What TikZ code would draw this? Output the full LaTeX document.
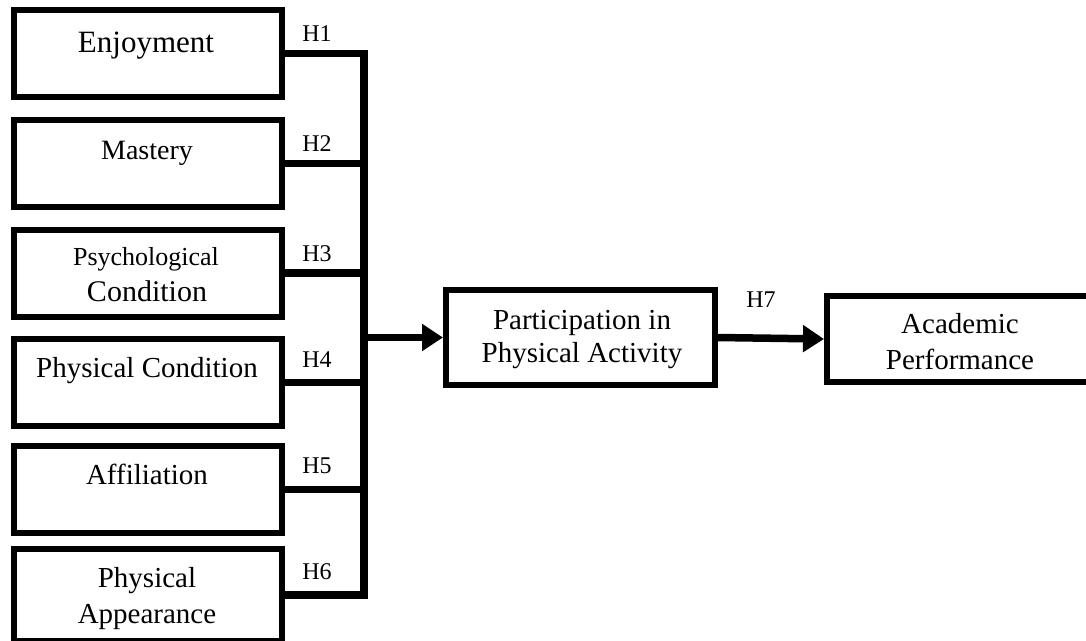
\documentclass[tikz,border=0pt]{standalone}
\usepackage{fontspec}
\setmainfont{Liberation Serif}
\usetikzlibrary{arrows.meta}
\tikzset{
  box/.style={draw, line width=6pt, minimum width=268pt, minimum height=87pt, inner sep=0pt},
  conn/.style={line width=7.5pt, line join=miter},
  tip/.style={-{Triangle[length=21pt,width=26pt]}},
  txt/.style={anchor=base, inner sep=0pt, font=\fontsize{29}{34}\selectfont},
  hyp/.style={anchor=base, inner sep=0pt, font=\fontsize{24}{28}\selectfont},
}
\begin{document}
\begin{tikzpicture}[x=1pt,y=-1pt]
\useasboundingbox (0,0) rectangle (1086,640);

% predictor boxes
\node[box] (b1) at (147.5,53.5) {};
\node[box] (b2) at (147.5,163.5) {};
\node[box] (b3) at (147.5,273) {};
\node[box] (b4) at (147.5,382.5) {};
\node[box] (b5) at (147.5,489.5) {};
\node[box, minimum height=92pt] (b6) at (147.5,595) {};

\node[txt, font=\fontsize{31}{36}\selectfont] (t1) at (146,52) {Enjoyment};
\node[txt, font=\fontsize{28}{33}\selectfont] (t2) at (147,159) {Mastery};
\node[txt, font=\fontsize{26}{31}\selectfont] (t3a) at (146,265) {Psychological};
\node[txt, font=\fontsize{30}{35}\selectfont] (t3b) at (147,301) {Condition};
\node[txt] (t4) at (147,377) {Physical Condition};
\node[txt] (t5) at (147,484) {Affiliation};
\node[txt] (t6a) at (147,587) {Physical};
\node[txt] (t6b) at (147,623) {Appearance};

% mediator and outcome
\node[box, minimum width=269pt, minimum height=95pt] (mid) at (580.5,337.5) {};
\node[txt] (m1) at (582,329) {Participation in};
\node[txt] (m2) at (582,362) {Physical Activity};

\node[box, minimum width=266pt, minimum height=86pt] (acad) at (960,339) {};
\node[txt] (a1) at (960,333) {Academic};
\node[txt] (a2) at (960,369) {Performance};

% collecting bus
\coordinate (bus) at (364,0);
\draw[conn] (b1.east) -- (b1.east -| bus) -- (b6.east -| bus) -- (b6.east);
\foreach \k in {2,3,4,5}
  \draw[conn] (b\k.east) -- (b\k.east -| bus);
\draw[conn, tip] (mid.west -| bus) -- (mid.west);
\draw[conn, tip] (mid.east) -- (acad.west);

% hypothesis labels
\node[hyp] (h1) at (317,41) {H1};
\node[hyp] (h2) at (317,151) {H2};
\node[hyp] (h3) at (317,261) {H3};
\node[hyp] (h4) at (317,367) {H4};
\node[hyp] (h5) at (317,473) {H5};
\node[hyp] (h6) at (317,579) {H6};
\node[hyp] (h7) at (761,307) {H7};
\end{tikzpicture}
\end{document}
